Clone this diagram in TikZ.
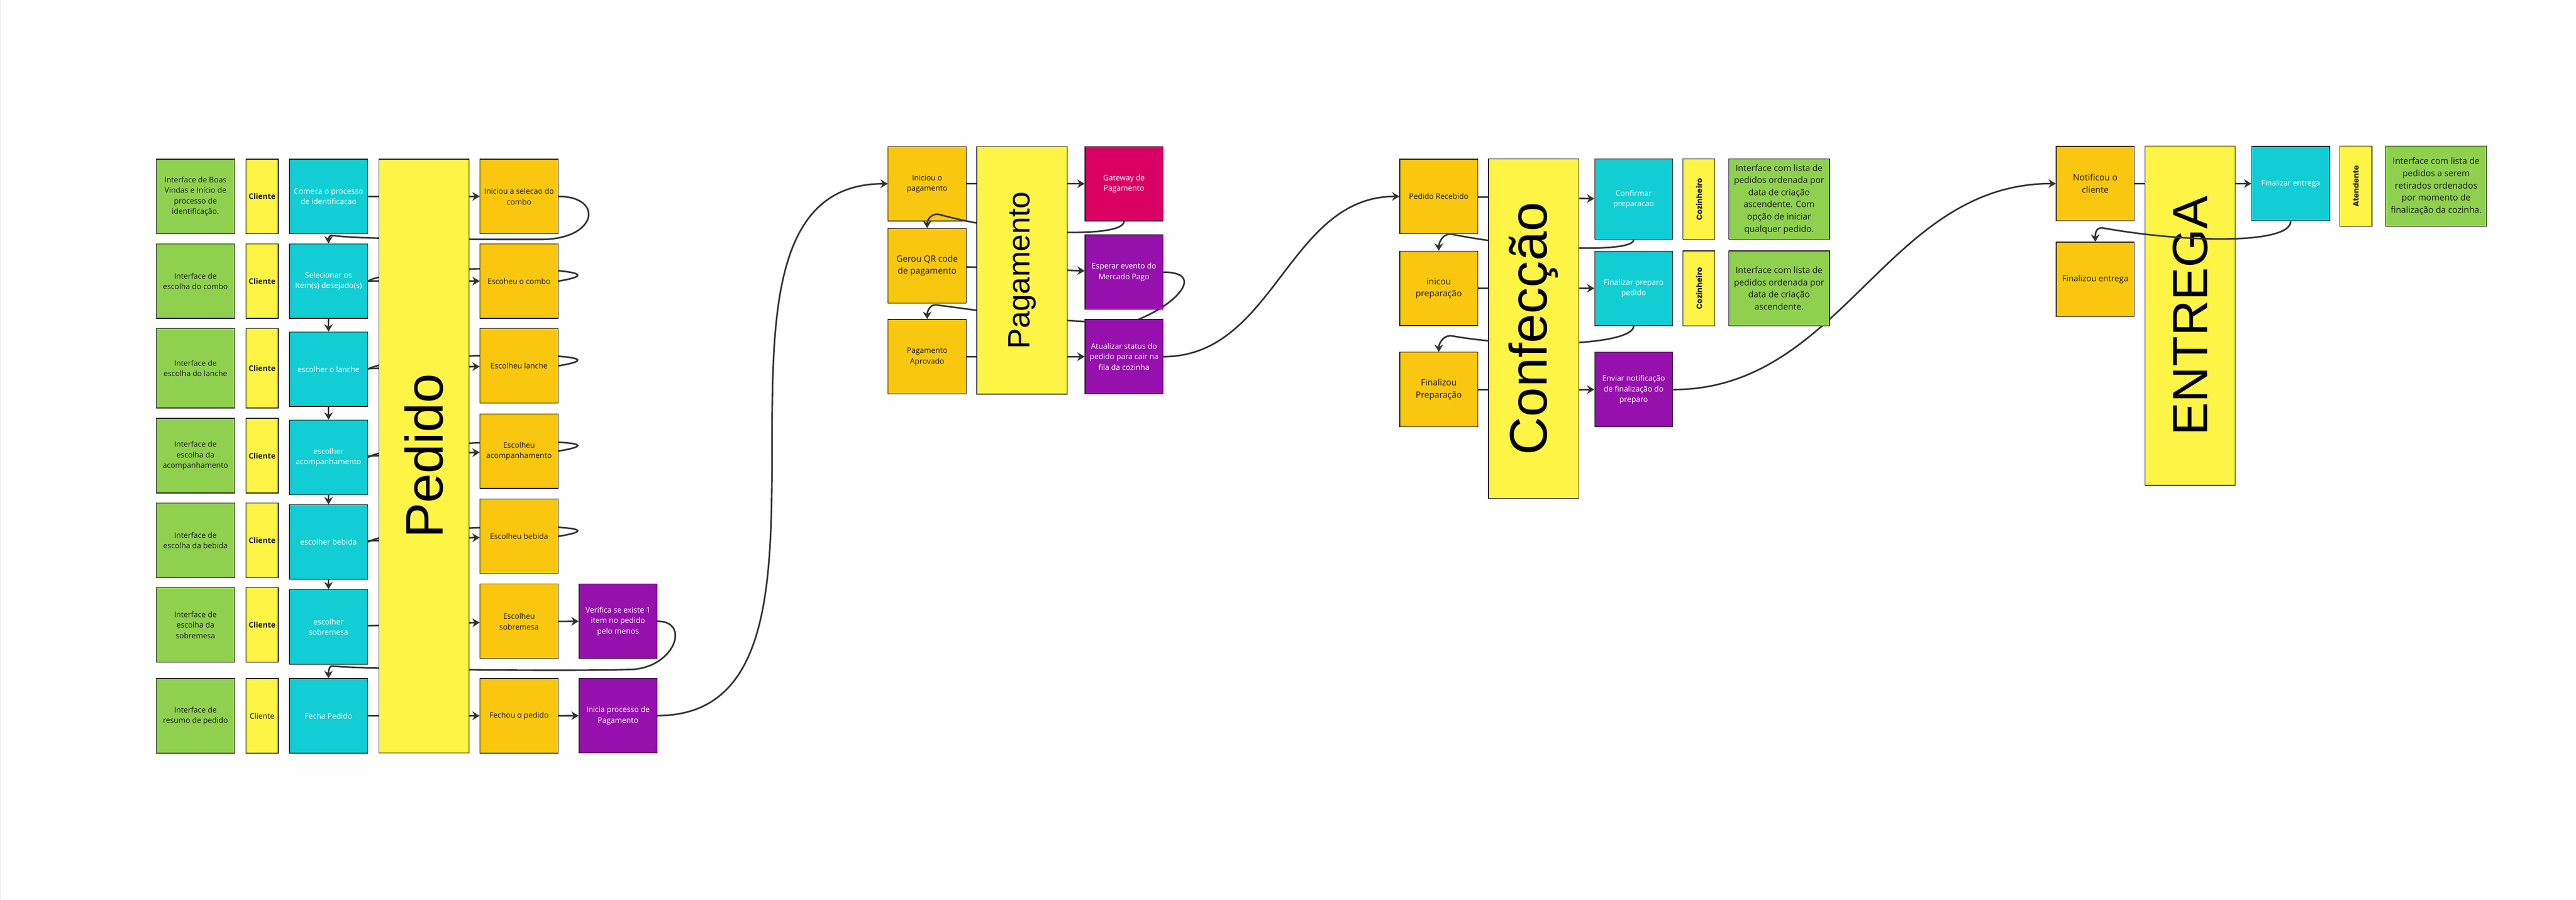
\documentclass[tikz,border=0pt]{standalone}
\usepackage{fontspec}
\setmainfont{Open Sans}
\newfontfamily\phasefont{Liberation Sans}
\newfontfamily\rolefont{Poppins}
\usetikzlibrary{arrows.meta,calc}

\definecolor{cardgreen}{HTML}{8FD14F}
\definecolor{cardyellow}{HTML}{FEF445}
\definecolor{cardcyan}{HTML}{12CDD4}
\definecolor{cardorange}{HTML}{FAC710}
\definecolor{cardpurple}{HTML}{9510AC}
\definecolor{cardred}{HTML}{DA0063}
\definecolor{linkgray}{HTML}{333333}
\definecolor{edgegray}{HTML}{1A1A1A}

\pgfdeclarelayer{bottom}
\pgfdeclarelayer{links}
\pgfsetlayers{bottom,links,main}

\newcommand{\cardtext}{\fontsize{5.7}{7.9}\selectfont}
\newcommand{\cardtextbig}{\fontsize{6.5}{9.1}\selectfont}

\tikzset{
    card/.style={draw=edgegray, line width=0.5pt, minimum width=2.05cm, minimum height=1.96cm,
        inner sep=0pt, align=center, font=\cardtext, text=edgegray},
    greencard/.style={card, fill=cardgreen},
    cyancard/.style={card, fill=cardcyan, text=white},
    orangecard/.style={card, fill=cardorange},
    purplecard/.style={card, fill=cardpurple, text=white},
    redcard/.style={card, fill=cardred, text=white},
    actorbox/.style={card, fill=cardyellow, minimum width=0.85cm},
    phasebox/.style={draw=edgegray, line width=0.5pt, fill=cardyellow, inner sep=0pt,
        minimum height=2.37cm, rotate=90, text=black},
    flowline/.style={draw=linkgray, line width=1.2pt, -{Stealth[length=5.5pt,width=6.5pt,inset=1.8pt]}},
    curveline/.style={draw=linkgray, line width=1.2pt}
}

\begin{document}
\begin{tikzpicture}
    % page
    \useasboundingbox (0,0) rectangle (67.67,-23.64);
    \begin{pgfonlayer}{bottom}
        \fill[white] (0,0) rectangle (67.67,-23.64);
        \fill[gray!12] (0,0) rectangle (0.03,-23.64);
    \end{pgfonlayer}

    % pedido: interfaces
    \node[greencard] (g1) at (5.135,-5.16) {Interface de Boas\\Vindas e Início de\\processo de\\identificação.};
    \node[greencard] (g2) at (5.135,-7.385) {Interface de\\escolha do combo};
    \node[greencard, minimum height=2.09cm] (g3) at (5.135,-9.675) {Interface de\\escolha do lanche};
    \node[greencard] (g4) at (5.135,-11.97) {Interface de\\escolha da\\acompanhamento};
    \node[greencard] (g5) at (5.135,-14.195) {Interface de\\escolha da bebida};
    \node[greencard] (g6) at (5.135,-16.42) {Interface de\\escolha da\\sobremesa};
    \node[greencard] (g7) at (5.135,-18.805) {Interface de\\resumo de pedido};

    % pedido: actor
    \node[actorbox, font=\cardtext\bfseries] (k1) at (6.885,-5.16) {Cliente};
    \node[actorbox, font=\cardtext\bfseries] (k2) at (6.885,-7.385) {Cliente};
    \node[actorbox, font=\cardtext\bfseries, minimum height=2.09cm] (k3) at (6.885,-9.675) {Cliente};
    \node[actorbox, font=\cardtext\bfseries] (k4) at (6.885,-11.97) {Cliente};
    \node[actorbox, font=\cardtext\bfseries] (k5) at (6.885,-14.195) {Cliente};
    \node[actorbox, font=\cardtext\bfseries] (k6) at (6.885,-16.42) {Cliente};
    \node[actorbox] (k7) at (6.885,-18.805) {Cliente};

    % pedido: commands
    \node[cyancard] (c1) at (8.63,-5.16) {Comeca o processo\\de identificacao};
    \node[cyancard] (c2) at (8.63,-7.385) {Selecionar os\\Item(s) desejado(s)};
    \node[cyancard] (c3) at (8.63,-9.70) {escolher o lanche};
    \node[cyancard] (c4) at (8.63,-12.015) {escolher\\acompanhamento};
    \node[cyancard] (c5) at (8.63,-14.24) {escolher bebida};
    \node[cyancard] (c6) at (8.63,-16.47) {escolher\\sobremesa};
    \node[cyancard] (c7) at (8.63,-18.805) {Fecha Pedido};

    % pedido: events and policies
    \node[orangecard] (o1) at (13.635,-5.16) {Iniciou a selecao do\\combo};
    \node[orangecard] (o2) at (13.635,-7.385) {Escoheu o combo};
    \node[orangecard] (o3) at (13.635,-9.61) {Escolheu lanche};
    \node[orangecard] (o4) at (13.635,-11.85) {Escolheu\\acompanhamento};
    \node[orangecard] (o5) at (13.635,-14.09) {Escolheu bebida};
    \node[orangecard] (o6) at (13.635,-16.325) {Escolheu\\sobremesa};
    \node[orangecard] (o7) at (13.635,-18.805) {Fechou o pedido};
    \node[purplecard] (p6) at (16.235,-16.32) {Verifica se existe 1\\item no pedido\\pelo menos};
    \node[purplecard] (p7) at (16.235,-18.80) {Inicia processo de\\Pagamento};

    \node[phasebox, minimum width=15.6cm, font=\phasefont\fontsize{39.5}{40}\selectfont] (pedido) at (11.135,-11.98) {Pedido};

    % pagamento
    \begin{pgfonlayer}{bottom}
        \node[orangecard] (pa1) at (24.355,-4.8275) {Iniciou o\\pagamento};
        \node[orangecard, font=\cardtextbig] (pa2) at (24.355,-6.98) {Gerou QR code\\de pagamento};
        \node[orangecard] (pa3) at (24.355,-9.37) {Pagamento\\Aprovado};
    \end{pgfonlayer}
    \node[phasebox, minimum width=6.505cm, minimum height=2.38cm, font=\phasefont\fontsize{23}{24}\selectfont] (pagamento) at (26.85,-7.10) {Pagamento};
    \node[redcard] (gw) at (29.526,-4.8275) {Gateway de\\Pagamento};
    \node[purplecard] (esp) at (29.526,-7.15) {Esperar evento do\\Mercado Pago};
    \node[purplecard] (atu) at (29.526,-9.37) {Atualizar status do\\pedido para cair na\\fila da cozinha};

    % confeccao
    \node[orangecard] (rec) at (37.795,-5.16) {Pedido Recebido};
    \node[orangecard, font=\cardtextbig] (ini) at (37.795,-7.575) {inicou\\preparação};
    \node[orangecard, font=\cardtextbig] (finp) at (37.795,-10.235) {Finalizou\\Preparação};
    \node[phasebox, minimum width=8.914cm, font=\phasefont\fontsize{39.5}{40}\selectfont] (confeccao) at (40.285,-8.633) {Confecção};
    \node[cyancard, minimum height=2.11cm] (conf1) at (42.915,-5.233) {Confirmar\\preparacao};
    \node[cyancard] (fin) at (42.915,-7.575) {Finalizar preparo\\pedido};
    \node[purplecard] (env) at (42.915,-10.235) {Enviar notificação\\de finalização do\\preparo};
    \node[actorbox, rotate=90, minimum width=2.11cm, minimum height=0.84cm, font=\rolefont\bfseries\fontsize{5.7}{7}\selectfont] (ck1) at (44.63,-5.233) {Cozinheiro};
    \node[actorbox, rotate=90, minimum width=1.97cm, minimum height=0.84cm, font=\rolefont\bfseries\fontsize{5.7}{7}\selectfont] (ck2) at (44.63,-7.575) {Cozinheiro};
    \node[greencard, minimum width=2.65cm, minimum height=2.11cm, font=\cardtextbig] (gk1) at (46.735,-5.233) {Interface com lista de\\pedidos ordenada por\\data de criação\\ascendente. Com\\opção de iniciar\\qualquer pedido.};
    \node[greencard, minimum width=2.65cm, minimum height=1.97cm, font=\cardtextbig] (gk2) at (46.735,-7.575) {Interface com lista de\\pedidos ordenada por\\data de criação\\ascendente.};

    % entrega
    \node[orangecard, font=\cardtextbig] (nt) at (55.04,-4.823) {Notificou o\\cliente};
    \node[orangecard, font=\fontsize{6.2}{8.6}\selectfont] (fent) at (55.04,-7.34) {Finalizou entrega};
    \node[phasebox, minimum width=8.91cm, font=\phasefont\fontsize{37}{38}\selectfont] (entrega) at (57.535,-8.295) {ENTREGA};
    \node[cyancard] (fe) at (60.175,-4.823) {Finalizar entrega};
    \node[actorbox, rotate=90, minimum width=2.11cm, minimum height=0.85cm, font=\rolefont\bfseries\fontsize{5.7}{7}\selectfont] (at) at (61.885,-4.895) {Atendente};
    \node[greencard, minimum width=2.65cm, minimum height=2.11cm, font=\cardtextbig] (ge) at (63.995,-4.895) {Interface com lista de\\pedidos a serem\\retirados ordenados\\por momento de\\finalização da cozinha.};

    \begin{pgfonlayer}{links}
        % pedido rows
        \draw[flowline] (c1) -- (o1);
        \draw[flowline] (c2) -- (o2);
        \draw[flowline] (c3) -- (o3);
        \draw[flowline] (c4) -- (o4);
        \draw[flowline] (c5) -- (o5);
        \draw[flowline] (c6) -- (o6);
        \draw[flowline] (c7) -- (o7);
        \draw[flowline] (o6) -- (p6);
        \draw[flowline] (o7) -- (p7);

        % down the commands
        \draw[flowline] (c2) -- (c3);
        \draw[flowline] (c3) -- (c4);
        \draw[flowline] (c4) -- (c5);
        \draw[flowline] (c5) -- (c6);

        % loops back to the commands
        \draw[flowline] (o1.east) .. controls +(1.2,0) and +(1.5,0) .. ($(o1.east)+(-0.46,-1.13)$)
            .. controls +(-2,0) and +(0.6,-0.1) .. ($(c2.north)+(0.12,0.21)$)
            .. controls +(-0.12,0.02) and +(0,0.1) .. (c2.north);
        \draw[curveline] (o2.east) .. controls +(2.34,0.385) and +(0.85,0.485) .. (c2.east);
        \draw[curveline] (o3.east) .. controls +(2.34,0.385) and +(0.85,0.485) .. (c3.east);
        \draw[curveline] (o4.east) .. controls +(2.34,0.385) and +(0.85,0.485) .. (c4.east);
        \draw[curveline] (o5.east) .. controls +(2.34,0.385) and +(0.85,0.485) .. (c5.east);
        \draw[flowline] (p6.east) .. controls +(0.9,0) and +(1.2,0) .. ($(p6.east)+(-0.76,-1.27)$)
            .. controls +(-2,-0.05) and +(0.6,-0.08) .. ($(c7.north)+(0.11,0.32)$)
            .. controls +(-0.12,0.015) and +(0,0.1) .. (c7.north);

        % pedido to pagamento
        \draw[flowline] (p7.east) to[out=0,in=180] (pa1.west);

        % pagamento
        \draw[flowline] (pa1) -- (gw);
        \draw[flowline] (pa2) -- (esp);
        \draw[flowline] (pa3) -- (atu);
        \draw[flowline] (gw.south) .. controls +(0,-0.44) and +(2.0,-0.55) .. ($(pa2.north)+(0.345,0.35)$)
            .. controls +(-0.24,0.066) and +(0,0.2) .. (pa2.north);
        \draw[flowline] (esp.east) .. controls +(1.1,0) and +(1.2,0.45) .. ($(esp.east)+(-0.8,-1.3)$)
            .. controls +(-1.5,-0.1) and +(1.4,-0.18) .. ($(pa3.north)+(0.245,0.37)$)
            .. controls +(-0.2,0.026) and +(0,0.15) .. (pa3.north);

        % pagamento to confeccao
        \draw[flowline] (atu.east) to[out=0,in=180] (rec.west);

        % confeccao
        \draw[flowline] (rec) -- (conf1);
        \draw[flowline] (ini) -- (fin);
        \draw[flowline] (finp) -- (env);
        \draw[flowline] (conf1.south) .. controls +(0,-0.36) and +(2.0,-0.4) .. ($(ini.north)+(0.355,0.43)$)
            .. controls +(-0.25,0.05) and +(0,0.2) .. (ini.north);
        \draw[flowline] (fin.south) .. controls +(0,-0.49) and +(2.0,-0.35) .. ($(finp.north)+(0.355,0.42)$)
            .. controls +(-0.25,0.04) and +(0,0.2) .. (finp.north);

        % confeccao to entrega
        \draw[flowline] (env.east) to[out=0,in=180] (nt.west);

        % entrega
        \draw[flowline] (nt) -- (fe);
    \end{pgfonlayer}

    % this one runs over the entrega box
    \draw[flowline] (fe.south) .. controls +(0,-0.6) and +(2.25,-0.4) .. ($(fent.north)+(0.21,0.36)$)
        .. controls +(-0.2,0.035) and +(0,0.2) .. (fent.north);
\end{tikzpicture}
\end{document}
